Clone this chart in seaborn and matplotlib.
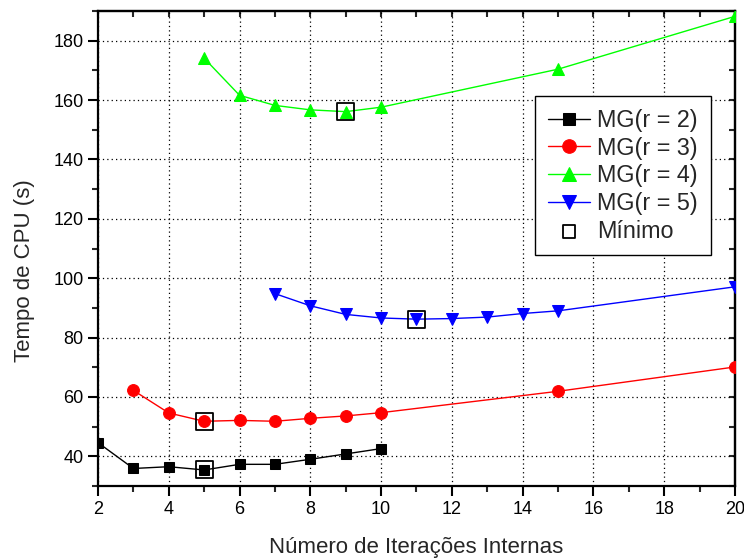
import matplotlib
matplotlib.use("Agg")
import matplotlib.pyplot as plt
from matplotlib.ticker import MultipleLocator
import seaborn as sns
import pandas as pd

# ---- data ----
x_r2 = [2, 3, 4, 5, 6, 7, 8, 9, 10]
y_r2 = [44.6, 35.9, 36.5, 35.4, 37.3, 37.3, 39.0, 40.8, 42.6]
x_r3 = [3, 4, 5, 6, 7, 8, 9, 10, 15, 20]
y_r3 = [62.2, 54.6, 51.8, 52.1, 51.8, 52.8, 53.6, 54.7, 61.9, 70.1]
x_r4 = [5, 6, 7, 8, 9, 10, 15, 20]
y_r4 = [174.1, 161.6, 158.2, 156.7, 156.1, 157.6, 170.4, 188.2]
x_r5 = [7, 8, 9, 10, 11, 12, 13, 14, 15, 20]
y_r5 = [94.8, 90.7, 87.8, 86.6, 86.2, 86.4, 86.9, 88.1, 89.0, 97.1]
series_names = ["MG(r = 2)", "MG(r = 3)", "MG(r = 4)", "MG(r = 5)"]
min_x = [5, 5, 9, 11]
min_y = [35.4, 51.8, 156.1, 86.2]
min_label = "Mínimo"
xlabel = "Número de Iterações Internas"
ylabel = "Tempo de CPU (s)"

colors = {"MG(r = 2)": "#000000", "MG(r = 3)": "#ff0000",
          "MG(r = 4)": "#00ff00", "MG(r = 5)": "#0000ff"}
markers = {"MG(r = 2)": "s", "MG(r = 3)": "o",
           "MG(r = 4)": "^", "MG(r = 5)": "v"}

rows = []
for name, xs, ys in zip(series_names, [x_r2, x_r3, x_r4, x_r5],
                        [y_r2, y_r3, y_r4, y_r5]):
    for xv, yv in zip(xs, ys):
        rows.append({"x": xv, "y": yv, "serie": name})
df = pd.DataFrame(rows)
df_min = pd.DataFrame({"x": min_x, "y": min_y, "serie": [min_label] * len(min_x)})

sns.set_style("ticks")
plt.rcParams["font.family"] = ["Liberation Sans", "DejaVu Sans"]

fig = plt.figure(figsize=(7.44, 5.59), dpi=100)
ax = fig.add_axes([98 / 744, 73 / 559, 637 / 744, 475 / 559])

sizes = {"MG(r = 2)": 7.5, "MG(r = 3)": 8.5, "MG(r = 4)": 9, "MG(r = 5)": 9}
for name in series_names:
    sub = df[df["serie"] == name]
    sns.lineplot(data=sub, x="x", y="y", ax=ax, color=colors[name],
                 marker=markers[name], markersize=sizes[name],
                 markeredgecolor=colors[name], linewidth=1.0, label=name,
                 zorder=3)

sns.scatterplot(data=df_min, x="x", y="y", ax=ax, marker="s", s=150,
                facecolors="none", edgecolor="black", linewidth=1.3,
                label=min_label, zorder=4)

ax.set_xlim(2, 20)
ax.set_ylim(30, 190)
ax.xaxis.set_major_locator(MultipleLocator(2))
ax.xaxis.set_minor_locator(MultipleLocator(1))
ax.set_yticks([40, 60, 80, 100, 120, 140, 160, 180])
ax.yaxis.set_minor_locator(MultipleLocator(10))

ax.grid(True, which="major", color="black", linestyle=(0, (1, 2.5)),
        linewidth=0.9)
ax.set_axisbelow(True)

for sp in ax.spines.values():
    sp.set_linewidth(1.6)
    sp.set_color("black")
    sp.set_visible(True)

ax.tick_params(axis="both", which="major", direction="out", length=7,
               width=1.5, labelsize=13, colors="black")
ax.tick_params(axis="both", which="minor", direction="out", length=4,
               width=1.5)

secx = ax.secondary_xaxis("top")
secx.xaxis.set_major_locator(MultipleLocator(1))
secx.tick_params(direction="in", length=4, width=1.5, labeltop=False)
secx.spines["top"].set_linewidth(1.6)
secy = ax.secondary_yaxis("right")
secy.yaxis.set_major_locator(MultipleLocator(10))
secy.tick_params(direction="in", length=4, width=1.5, labelright=False)
secy.spines["right"].set_linewidth(1.6)

ax.set_xlabel(xlabel, fontsize=16)
ax.set_ylabel(ylabel, fontsize=16)
ax.xaxis.set_label_coords(0.5, -0.130)
ax.yaxis.set_label_coords(-0.1146, 0.453)
ax.xaxis.label.set_va("center")
ax.yaxis.label.set_va("center")

handles, labels = ax.get_legend_handles_labels()
leg = ax.legend(handles, labels, loc="upper right",
                bbox_to_anchor=(0.962, 0.821), borderaxespad=0,
                fontsize=16.8, frameon=True, fancybox=False,
                edgecolor="black", framealpha=1, handlelength=1.8,
                labelspacing=0.2, handletextpad=0.3, borderpad=0.55,
                markerscale=1.15)
leg.get_frame().set_linewidth(1.0)
try:
    leg.legend_handles[-1].set_sizes([80])
except Exception:
    pass

fig.savefig("out.png", dpi=100)
